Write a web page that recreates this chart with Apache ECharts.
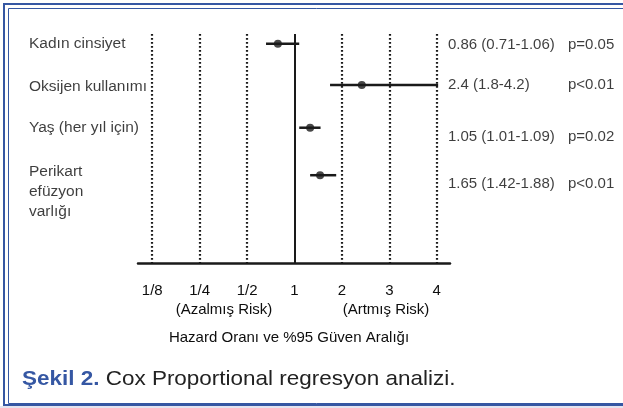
<!DOCTYPE html>
<html>
<head>
<meta charset="utf-8">
<script src="https://cdn.jsdelivr.net/npm/echarts@6/dist/echarts.min.js"></script>
<style>
  html, body { margin: 0; padding: 0; background: #fff; }
  #chart { width: 623px; height: 408px; }
</style>
</head>
<body>
<div id="chart"></div>
<script>
const tickLabels = ['1/8', '1/4', '1/2', '1', '2', '3', '4'];
const tickPos = [0, 1, 2, 3, 4, 5, 6];
const factors = ['Kadın cinsiyet', 'Oksijen kullanımı', 'Yaş (her yıl için)', 'Perikart\nefüzyon\nvarlığı'];
const rowPos = [0, 0.97, 1.98, 3.1];
// where the marks sit on the evenly spaced 1/8 ... 4 axis
const estPos = [2.65, 4.42, 3.33, 3.54];
const lowPos = [2.40, 3.75, 3.10, 3.33];
const highPos = [3.10, 6.03, 3.55, 3.88];
const ciText = ['0.86 (0.71-1.06)', '2.4 (1.8-4.2)', '1.05 (1.01-1.09)', '1.65 (1.42-1.88)'];
const pText = ['p=0.05', 'p<0.01', 'p=0.02', 'p<0.01'];

const X_MIN = -0.3;
const X_MAX = 6.28;
const ink = '#1a1a1a';
const txt = '#0d0d0d';
const font = '"Liberation Sans", Arial, Helvetica, sans-serif';
const blue = '#3557a3';

const chart = echarts.init(document.getElementById('chart'), null, { renderer: 'canvas' });

const leftNudge = [0, 2, 0, 16.5];
const rightNudge = [1, 0, 9, 9];

const option = {
  animation: false,
  backgroundColor: '#fff',
  textStyle: { fontFamily: font },
  grid: { left: 138, right: 173, top: 34, bottom: 145 },
  xAxis: {
    type: 'value',
    min: X_MIN,
    max: X_MAX,
    axisLine: { show: true, onZero: false, lineStyle: { color: ink, width: 2.5 } },
    axisTick: { show: false },
    splitLine: { show: false },
    axisLabel: {
      customValues: tickPos,
      formatter: (v) => tickLabels[Math.round(v)],
      color: txt,
      fontSize: 15,
      lineHeight: 15,
      margin: 20,
      fontFamily: font,
    },
  },
  yAxis: {
    type: 'value',
    inverse: true,
    min: -0.23,
    max: 5.17,
    show: false,
  },
  series: [
    {
      // confidence interval bars
      type: 'custom',
      silent: true,
      clip: false,
      data: factors.map((f, i) => [lowPos[i], highPos[i], rowPos[i]]),
      renderItem(params, api) {
        const a = api.coord([api.value(0), api.value(2)]);
        const b = api.coord([api.value(1), api.value(2)]);
        return {
          type: 'line',
          shape: { x1: a[0], y1: a[1], x2: b[0], y2: b[1] },
          style: { stroke: ink, lineWidth: 2.5 },
        };
      },
      z: 3,
    },
    {
      // point estimates + reference lines
      type: 'scatter',
      symbol: 'circle',
      symbolSize: 8,
      itemStyle: { color: ink },
      data: factors.map((f, i) => [estPos[i], rowPos[i]]),
      z: 4,
      markLine: {
        silent: true,
        symbol: 'none',
        label: { show: false },
        data: tickPos.map((t) => ({
          xAxis: t,
          lineStyle: t === 3
            ? { type: 'solid', width: 2, color: ink }
            : { type: [1.8, 2.2], width: 2.2, color: ink },
        })),
      },
    },
    {
      // factor names on the left
      type: 'scatter',
      symbolSize: 0,
      silent: true,
      data: factors.map((f, i) => ({
        value: [X_MIN, rowPos[i]],
        label: { offset: [-109, leftNudge[i]] },
      })),
      label: {
        show: true,
        position: 'inside',
        align: 'left',
        verticalAlign: 'middle',
        formatter: (p) => factors[p.dataIndex],
        color: txt,
        fontSize: 15.5,
        lineHeight: 20,
        fontFamily: font,
      },
    },
    {
      // HR (CI) and p on the right
      type: 'scatter',
      symbolSize: 0,
      silent: true,
      data: factors.map((f, i) => ({
        value: [X_MAX, rowPos[i]],
        label: { offset: [-2, rightNudge[i]] },
      })),
      label: {
        show: true,
        position: 'inside',
        align: 'left',
        verticalAlign: 'middle',
        formatter: (p) => '{ci|' + ciText[p.dataIndex] + '}{p|' + pText[p.dataIndex] + '}',
        color: txt,
        fontSize: 15,
        fontFamily: font,
        rich: {
          ci: { width: 120, fontSize: 15, color: txt, fontFamily: font },
          p: { fontSize: 15, color: txt, fontFamily: font },
        },
      },
    },
  ],
  graphic: [
    {
      type: 'rect',
      shape: { x: 0, y: 406, width: 623, height: 2 },
      style: { fill: '#e4e4f0' },
      silent: true,
    },
    {
      type: 'rect',
      shape: { x: 4, y: 4, width: 640, height: 401 },
      style: { fill: 'none', stroke: blue, lineWidth: 2 },
      silent: true,
    },
    {
      type: 'rect',
      shape: { x: 8.5, y: 8.5, width: 630, height: 395 },
      style: { fill: 'none', stroke: blue, lineWidth: 1 },
      silent: true,
    },
    {
      type: 'text',
      x: 224, y: 310,
      style: { text: '(Azalmış Risk)', font: '15px ' + font, fill: txt, textAlign: 'center', textVerticalAlign: 'middle' },
      silent: true,
    },
    {
      type: 'text',
      x: 386, y: 310,
      style: { text: '(Artmış Risk)', font: '15px ' + font, fill: txt, textAlign: 'center', textVerticalAlign: 'middle' },
      silent: true,
    },
    {
      type: 'text',
      x: 289, y: 338,
      style: { text: 'Hazard Oranı ve %95 Güven Aralığı', font: '15px ' + font, fill: txt, textAlign: 'center', textVerticalAlign: 'middle' },
      silent: true,
    },
    {
      type: 'text',
      x: 22, y: 379,
      scaleX: 1.07,
      style: {
        text: '{b|Şekil 2.} Cox Proportional regresyon analizi.',
        font: '21px ' + font,
        fill: '#222',
        textAlign: 'left',
        textVerticalAlign: 'middle',
        rich: {
          b: { font: 'bold 21px ' + font, fill: blue },
        },
      },
      silent: true,
    },
  ],
};

chart.setOption(option);
</script>
</body>
</html>
